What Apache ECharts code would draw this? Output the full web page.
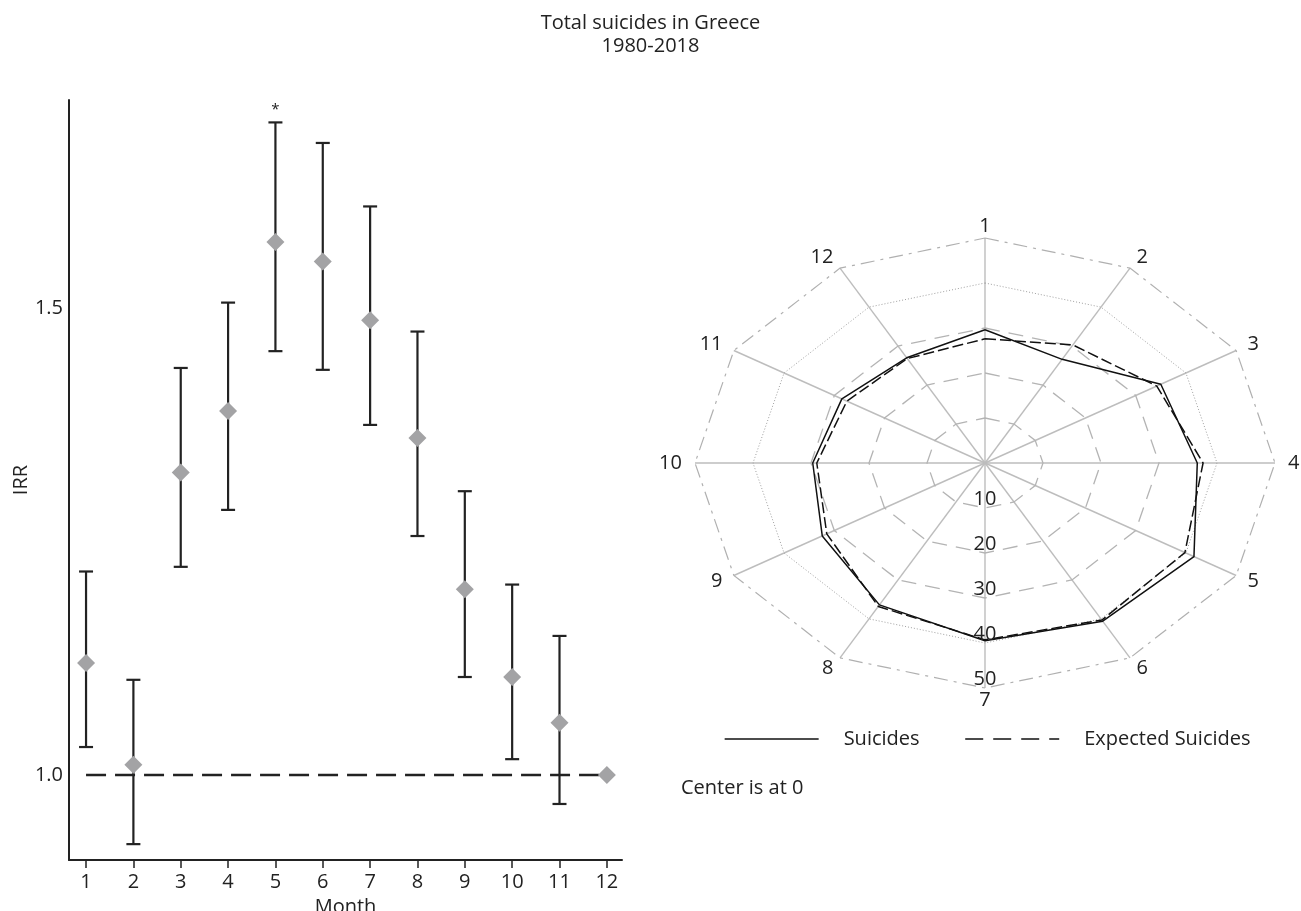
<!DOCTYPE html>
<html>
<head>
<meta charset="utf-8">
<script src="https://cdn.jsdelivr.net/npm/echarts@6/dist/echarts.min.js"></script>
<style>
html,body{margin:0;padding:0;background:#fff;}
#chart{width:1301px;height:911px;}
</style>
</head>
<body>
<div id="chart"></div>
<script>
// ---------- data ----------
const months = [1, 2, 3, 4, 5, 6, 7, 8, 9, 10, 11, 12];
const irr    = [1.120, 1.011, 1.324, 1.390, 1.571, 1.550, 1.487, 1.361, 1.199, 1.105, 1.056, 1.000];
const ciLow  = [1.030, 0.926, 1.223, 1.284, 1.454, 1.434, 1.375, 1.256, 1.105, 1.017, 0.969, null];
const ciHigh = [1.218, 1.102, 1.436, 1.506, 1.699, 1.677, 1.609, 1.475, 1.304, 1.204, 1.149, null];
const significant = [0, 0, 0, 0, 1, 0, 0, 0, 0, 0, 0, 0];
const refValue = 1.0;
const yTickValues = [1.0, 1.5];

const radarLabels = ['1', '2', '3', '4', '5', '6', '7', '8', '9', '10', '11', '12'];
const suicides = [29.6, 26.6, 35.0, 36.6, 41.6, 40.6, 39.5, 36.4, 32.4, 29.7, 28.5, 27.0];
const expected = [27.6, 30.3, 34.2, 37.6, 39.8, 40.3, 39.3, 36.8, 31.5, 29.0, 27.5, 26.8];
const ringValues = [10, 20, 30, 40, 50];
const radarMax = 50;

// ---------- helpers ----------
const FONT = 'Open Sans';
const FS = 20;
const INK = '#222';
function polarXY(rx, ry, i) {
  const a = i * Math.PI * 2 / radarLabels.length;
  return [rx * Math.sin(a), ry * Math.cos(a)];
}
function polar(r, i) { return polarXY(r, r, i); }
function closedPolygon(vals) {
  const pts = vals.map((v, i) => polar(v, i));
  pts.push(pts[0]);
  return pts;
}
const ringStyles = [
  {stroke: '#b4b4b4', lineWidth: 1.3, lineDash: [15, 9]},
  {stroke: '#b4b4b4', lineWidth: 1.3, lineDash: [15, 9]},
  {stroke: '#b4b4b4', lineWidth: 1.3, lineDash: [15, 9]},
  {stroke: '#a0a0a0', lineWidth: 1, lineDash: [1, 2]},
  {stroke: '#b0b0b0', lineWidth: 1.2, lineDash: [14, 6, 3, 6]}
];
const hiddenSymbol = {color: 'rgba(0,0,0,0)', opacity: 0, borderWidth: 0};

const errData = [];
months.forEach((m, i) => {
  if (ciLow[i] != null) errData.push([m, ciLow[i], ciHigh[i], significant[i]]);
});

const chart = echarts.init(document.getElementById('chart'), null, {renderer: 'canvas'});
const option = {
  backgroundColor: '#fff',
  animation: false,
  textStyle: {fontFamily: FONT, color: INK},
  title: [
    {
      text: 'Total suicides in Greece\n1980-2018',
      left: 'center', top: 7,
      textStyle: {fontFamily: FONT, fontSize: FS, fontWeight: 'normal', color: INK, lineHeight: 23}
    },
    {
      text: 'Center is at 0',
      left: 676, top: 773,
      textStyle: {fontFamily: FONT, fontSize: FS, fontWeight: 'normal', color: INK}
    }
  ],
  legend: {
    left: 719, top: 724,
    itemWidth: 94, itemHeight: 14, itemGap: 45,
    textStyle: {fontFamily: FONT, fontSize: FS, color: INK, padding: [0, 0, 0, 20]},
    data: [
      {name: 'Suicides', itemStyle: hiddenSymbol,
        lineStyle: {color: '#111', width: 1.3, type: 'solid'}},
      {name: 'Expected Suicides', itemStyle: hiddenSymbol,
        lineStyle: {color: '#111', width: 1.3, type: [18, 10]}}
    ]
  },
  grid: [
    {left: 69, top: 100, width: 553, height: 760, containLabel: false, outerBoundsMode: 'none'},
    {left: 695, top: 238, width: 580, height: 450, containLabel: false, outerBoundsMode: 'none'}
  ],
  xAxis: [
    {
      type: 'value', gridIndex: 0, min: 0.64, max: 12.32,
      name: 'Month', nameLocation: 'middle', nameGap: 30,
      nameTextStyle: {fontFamily: FONT, fontSize: FS, color: INK},
      axisLine: {show: true, lineStyle: {color: INK, width: 2}},
      axisTick: {show: true, length: 8, lineStyle: {color: INK, width: 1.5}, customValues: months},
      axisLabel: {show: true, fontFamily: FONT, fontSize: FS, color: INK, margin: 12, customValues: months},
      splitLine: {show: false}
    },
    {type: 'value', gridIndex: 1, min: -radarMax, max: radarMax, show: false}
  ],
  yAxis: [
    {
      type: 'value', gridIndex: 0, min: 0.909, max: 1.723,
      name: 'IRR', nameLocation: 'middle', nameGap: 38, nameRotate: 90,
      nameTextStyle: {fontFamily: FONT, fontSize: FS, color: INK},
      axisLine: {show: true, lineStyle: {color: INK, width: 2}},
      axisTick: {show: false},
      axisLabel: {show: true, fontFamily: FONT, fontSize: FS, color: INK, margin: 6,
        customValues: yTickValues, formatter: v => v.toFixed(1)},
      splitLine: {show: false}
    },
    {type: 'value', gridIndex: 1, min: -radarMax, max: radarMax, show: false}
  ],
  series: [
    // reference line IRR = 1
    {
      type: 'line', xAxisIndex: 0, yAxisIndex: 0, silent: true,
      data: [[months[0], refValue], [months[months.length - 1], refValue]],
      symbol: 'none',
      lineStyle: {color: INK, width: 2.5, type: [20, 9]},
      z: 2
    },
    // confidence intervals
    {
      type: 'custom', xAxisIndex: 0, yAxisIndex: 0, silent: true,
      data: errData,
      renderItem: function (params, api) {
        const x = api.value(0);
        const lo = api.coord([x, api.value(1)]);
        const hi = api.coord([x, api.value(2)]);
        const hw = 7;
        const st = {stroke: INK, lineWidth: 2.2};
        const children = [
          {type: 'line', shape: {x1: lo[0], y1: lo[1], x2: hi[0], y2: hi[1]}, style: st},
          {type: 'line', shape: {x1: lo[0] - hw, y1: lo[1], x2: lo[0] + hw, y2: lo[1]}, style: st},
          {type: 'line', shape: {x1: hi[0] - hw, y1: hi[1], x2: hi[0] + hw, y2: hi[1]}, style: st}
        ];
        if (api.value(3)) {
          children.push({type: 'text', style: {text: '*', x: hi[0], y: hi[1] - 5, align: 'center',
            verticalAlign: 'bottom', fontSize: 15, fontFamily: FONT, fill: INK}});
        }
        return {type: 'group', children: children};
      },
      z: 3
    },
    // IRR diamonds
    {
      type: 'scatter', xAxisIndex: 0, yAxisIndex: 0, silent: true,
      data: months.map((m, i) => [m, irr[i]]),
      symbol: 'diamond', symbolSize: 18,
      itemStyle: {color: '#a3a3a5', opacity: 1},
      z: 4
    },
    // radar spokes
    {
      type: 'custom', xAxisIndex: 1, yAxisIndex: 1, silent: true,
      data: radarLabels.map((_, i) => [i]),
      renderItem: function (params, api) {
        const i = api.value(0);
        const c = api.coord([0, 0]);
        const e = api.coord(polar(radarMax, i));
        return {type: 'line', shape: {x1: c[0], y1: c[1], x2: e[0], y2: e[1]},
          style: {stroke: '#bdbdbd', lineWidth: 1.4}};
      },
      z: 1
    },
    // radar rings
    {
      type: 'custom', xAxisIndex: 1, yAxisIndex: 1, silent: true,
      data: ringValues.map(v => [v]),
      renderItem: function (params, api) {
        const v = api.value(0);
        const pts = closedPolygon(radarLabels.map(() => v)).map(p => api.coord(p));
        const s = ringStyles[params.dataIndex];
        return {type: 'polyline', shape: {points: pts},
          style: {fill: null, stroke: s.stroke, lineWidth: s.lineWidth, lineDash: s.lineDash}};
      },
      z: 1
    },
    // ring value labels
    {
      type: 'custom', xAxisIndex: 1, yAxisIndex: 1, silent: true,
      data: ringValues.map(v => [v]),
      renderItem: function (params, api) {
        const v = api.value(0);
        const p = api.coord([0, -v]);
        return {type: 'text', style: {text: String(v), x: p[0], y: p[1] + 1, align: 'center',
          verticalAlign: 'bottom', fontSize: FS, fontFamily: FONT, fill: INK}};
      },
      z: 6
    },
    // month labels
    {
      type: 'custom', xAxisIndex: 1, yAxisIndex: 1, silent: true,
      data: radarLabels.map((_, i) => [i]),
      renderItem: function (params, api) {
        const i = api.value(0);
        const pos = polarXY(radarMax * 1.045, radarMax * 1.054, i);
        const p = api.coord(pos);
        const s = pos[0] / radarMax;
        const align = s > 0.1 ? 'left' : (s < -0.1 ? 'right' : 'center');
        return {type: 'text', style: {text: radarLabels[i], x: p[0], y: p[1], align: align,
          verticalAlign: 'middle', fontSize: FS, fontFamily: FONT, fill: INK}};
      },
      z: 6
    },
    // data lines
    {
      name: 'Suicides', type: 'line', xAxisIndex: 1, yAxisIndex: 1, silent: true,
      data: closedPolygon(suicides), symbol: 'none',
      itemStyle: {color: '#111'},
      lineStyle: {color: '#111', width: 1.5, type: 'solid'},
      z: 5
    },
    {
      name: 'Expected Suicides', type: 'line', xAxisIndex: 1, yAxisIndex: 1, silent: true,
      data: closedPolygon(expected), symbol: 'none',
      itemStyle: {color: '#111'},
      lineStyle: {color: '#111', width: 1.5, type: [11, 4]},
      z: 5
    }
  ]
};
chart.setOption(option);
</script>
</body>
</html>
